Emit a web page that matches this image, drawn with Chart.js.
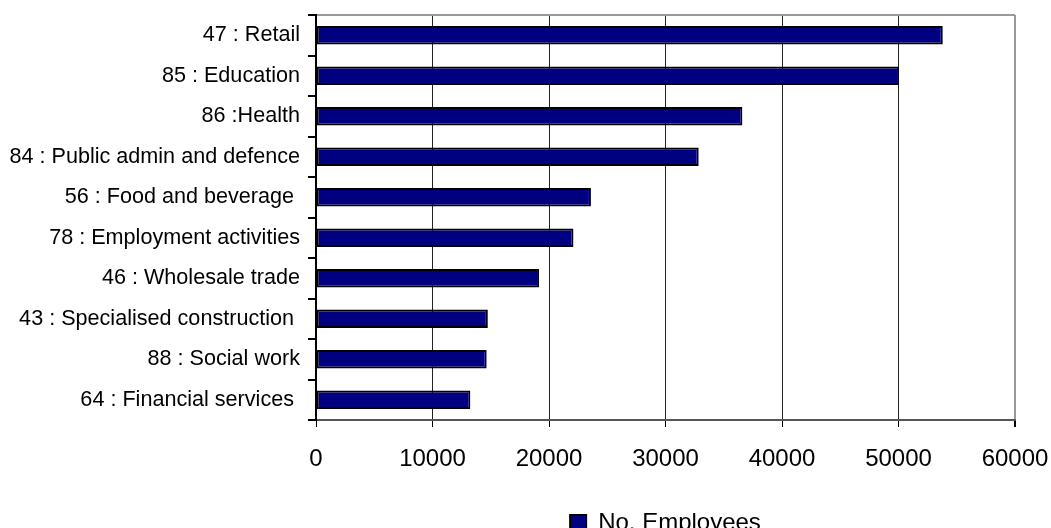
<!DOCTYPE html>
<html>
<head>
<meta charset="utf-8">
<script src="https://cdn.jsdelivr.net/npm/chart.js@4/dist/chart.umd.min.js"></script>
<style>
  html, body { margin: 0; padding: 0; background: #fff; overflow: hidden; }
  canvas { display: block; }
</style>
</head>
<body>
<canvas id="myChart" width="1051" height="560"></canvas>
<script>
// top to bottom, as in the picture
const categories = [
  "47 : Retail",
  "85 : Education",
  "86 :Health",
  "84 : Public admin and defence",
  "56 : Food and beverage ",
  "78 : Employment activities",
  "46 : Wholesale trade",
  "43 : Specialised construction ",
  "88 : Social work",
  "64 : Financial services "
];
const employees = [53800, 50050, 36600, 32850, 23600, 22100, 19150, 14750, 14650, 13250];
const seriesName = "No. Employees";
const xTickValues = [0, 10000, 20000, 30000, 40000, 50000, 60000];

Chart.defaults.font.family = "'Liberation Sans', Arial, sans-serif";
Chart.defaults.color = "#000";

// legend sits under the middle of the plot, not the canvas
const centerLegend = {
  id: "centerLegend",
  afterLayout(chart) {
    const lg = chart.legend;
    const area = chart.chartArea;
    const shift = (area.left + area.right) / 2 - (lg.left + lg.right) / 2;
    lg.left += shift;
    lg.right += shift;
  }
};

const ctx = document.getElementById("myChart").getContext("2d");
new Chart(ctx, {
  type: "bar",
  data: {
    labels: categories,
    datasets: [{
      label: seriesName,
      data: employees,
      backgroundColor: "#000080",
      borderColor: "#000",
      borderWidth: 2,
      borderSkipped: false,
      barPercentage: 0.46,
      categoryPercentage: 1
    }]
  },
  options: {
    indexAxis: "y",
    responsive: false,
    animation: false,
    layout: { padding: { top: 15, right: 36, bottom: 15, left: 0 } },
    scales: {
      x: {
        min: xTickValues[0],
        max: xTickValues[xTickValues.length - 1],
        afterBuildTicks: (scale) => { scale.ticks = xTickValues.map(v => ({ value: v })); },
        afterFit: (scale) => {
          scale.height = 81;
          scale.paddingLeft = 0;
          scale.paddingRight = 0;
        },
        grid: {
          color: (c) => c.index === xTickValues.length - 1 ? "#999" : "#222",
          lineWidth: (c) => c.index === xTickValues.length - 1 ? 2 : 1,
          tickColor: "#000",
          tickLength: 7
        },
        border: { color: "#555", width: 2 },
        ticks: {
          maxRotation: 0,
          padding: 18,
          font: { size: 24 },
          callback: (v) => String(v)
        }
      },
      y: {
        afterFit: (scale) => {
          scale.width = 316;
          scale.paddingTop = 0;
          scale.paddingBottom = 0;
        },
        grid: {
          offset: true,
          color: (c) => c.index === 0 ? "#999" : "rgba(0,0,0,0)",
          lineWidth: 2,
          tickColor: "#000",
          tickLength: 8
        },
        border: { color: "#000", width: 2 },
        ticks: { padding: 8, font: { size: 21.6 } }
      }
    },
    plugins: {
      legend: {
        position: "bottom",
        labels: {
          boxWidth: 16,
          boxHeight: 16,
          padding: 10,
          font: { size: 24 }
        }
      },
      tooltip: { enabled: false }
    }
  },
  plugins: [centerLegend]
});
</script>
</body>
</html>
